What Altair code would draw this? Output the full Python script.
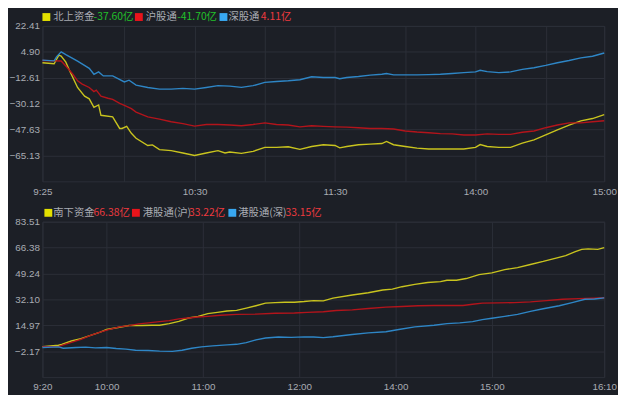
import altair as alt
import pandas as pd

# ---------------- top panel: 北向资金 (minutes from 9:25, lunch removed) ----------------
top_names = ["北上资金", "沪股通", "深股通"]
top_value_texts = ["-37.60亿", "-41.70亿", "4.11亿"]
top_x_ticks = [0, 35, 65, 95, 125, 155, 185, 215, 240]
top_x_labels = {0: "9:25", 65: "10:30", 125: "11:30", 185: "14:00", 240: "15:00"}
top_y_ticks = [22.41, 4.90, -12.61, -30.12, -47.63, -65.13]
top_y_domain = [-82.64, 22.41]

north_t = [0, 5, 7, 8, 10, 12, 15, 18, 20, 22, 24, 25, 30, 33, 34, 36, 38, 40, 45, 47, 50, 55, 60, 65,
           70, 75, 78, 80, 85, 90, 95, 100, 105, 110, 115, 120, 125, 127, 130, 135, 140, 145, 147,
           150, 155, 160, 165, 170, 175, 180, 185, 187, 190, 195, 200, 205, 210, 215, 220, 225,
           230, 235, 240]
north_v = [-2.5, -3.2, 2.6, 2.0, -2.1, -9.2, -19.2, -25.1, -26.9, -32.6, -31.0, -38.0, -39.1, -46.9,
           -46.9, -45.5, -50.2, -53.5, -58.4, -58.0, -61.2, -61.9, -63.5, -65.2, -63.5, -61.9, -63.5,
           -62.8, -63.7, -62.4, -59.7, -59.7, -59.3, -61.0, -59.1, -57.9, -58.4, -60.0, -59.1, -57.9,
           -57.5, -57.1, -55.7, -57.9, -59.1, -60.2, -60.8, -60.8, -60.8, -60.8, -59.7, -57.8, -59.1,
           -59.7, -59.7, -56.8, -54.6, -51.3, -47.9, -44.6, -41.8, -40.2, -37.60]

sh_t = [0, 5, 8, 10, 13, 15, 17, 20, 22, 23, 25, 28, 30, 33, 35, 38, 40, 45, 50, 55, 60, 65, 70, 75,
        80, 85, 90, 95, 100, 105, 110, 115, 120, 125, 130, 135, 140, 145, 150, 155, 160, 165, 170,
        175, 180, 185, 190, 195, 200, 205, 210, 215, 220, 225, 230, 235, 240]
sh_v = [-1.0, -1.2, -1.3, -4.7, -10.3, -14.7, -16.9, -19.2, -22.0, -21.0, -25.1, -26.5, -27.3, -30.0,
        -31.3, -33.5, -35.8, -39.1, -40.6, -42.4, -43.6, -45.3, -44.2, -44.2, -44.6, -45.1, -44.2,
        -43.1, -44.2, -44.6, -45.8, -45.1, -45.5, -45.8, -46.0, -46.4, -46.9, -46.9, -47.3, -48.6,
        -49.3, -49.8, -50.4, -50.6, -51.3, -51.3, -50.6, -50.9, -50.9, -49.5, -48.6, -46.4, -44.6,
        -43.1, -43.1, -42.4, -41.70]

sz_t = [0, 5, 6, 8, 10, 15, 20, 22, 24, 26, 30, 35, 37, 40, 45, 50, 55, 60, 65, 70, 75, 80, 85, 90,
        95, 100, 105, 110, 115, 120, 125, 127, 130, 135, 140, 145, 147, 150, 155, 160, 165, 170, 175,
        180, 185, 187, 190, 195, 200, 205, 210, 215, 220, 225, 230, 235, 240]
sz_v = [-0.73, -1.2, 1.5, 4.9, 3.0, -1.4, -6.3, -10.3, -8.7, -11.4, -11.4, -15.5, -14.3, -17.6, -19.2,
        -20.3, -20.3, -19.8, -20.3, -19.2, -18.0, -18.3, -19.15, -18.0, -15.8, -15.2, -14.7, -14.0,
        -12.0, -12.5, -12.5, -13.3, -12.5, -11.8, -10.9, -10.3, -9.8, -10.7, -10.7, -10.7, -10.5,
        -10.3, -9.8, -9.2, -8.7, -7.6, -8.5, -9.2, -8.7, -7.0, -5.9, -4.3, -2.5, -1.0, 0.8, 1.9, 4.11]

# ---------------- bottom panel: 南向资金 (minutes from 9:20, lunch removed) ----------------
bot_names = ["南下资金", "港股通(沪)", "港股通(深)"]
bot_value_texts = ["66.38亿", "33.22亿", "33.15亿"]
bot_x_ticks = [0, 40, 100, 160, 220, 280, 350]
bot_x_labels = {0: "9:20", 40: "10:00", 100: "11:00", 160: "12:00", 220: "14:00", 280: "15:00", 350: "16:10"}
bot_y_ticks = [83.51, 66.38, 49.24, 32.10, 14.97, -2.17]
bot_y_domain = [-19.31, 83.51]

south_t = [0, 10, 12, 18, 24, 30, 36, 40, 48, 54, 62, 68, 73, 79, 85, 91, 97, 103, 109, 115, 121, 127,
           133, 139, 145, 151, 157, 163, 169, 175, 181, 193, 203, 212, 218, 224, 232, 240, 248, 252,
           258, 264, 272, 280, 288, 296, 304, 312, 320, 326, 332, 336, 340, 346, 350]
south_v = [0.9, 1.8, 2.4, 4.6, 6.1, 8.3, 10.5, 12.2, 13.7, 14.8, 14.8, 15.0, 15.0, 16.1, 17.6, 19.8,
           20.9, 22.7, 23.5, 24.4, 24.8, 26.3, 27.9, 29.6, 30.0, 30.25, 30.25, 30.7, 31.3, 31.1, 32.9,
           35.0, 36.5, 38.3, 38.9, 40.5, 42.0, 43.3, 43.9, 44.8, 44.8, 45.9, 48.5, 49.6, 51.8, 53.1,
           55.2, 57.2, 59.4, 61.1, 63.7, 65.2, 65.5, 65.2, 66.38]

hsh_t = [0, 10, 14, 24, 30, 36, 40, 48, 54, 60, 66, 73, 79, 85, 91, 97, 103, 111, 121, 133, 145, 157,
         165, 175, 183, 193, 203, 214, 224, 234, 244, 254, 262, 268, 274, 284, 294, 304, 314, 324,
         334, 344, 350]
hsh_v = [0.9, 0.9, 2.4, 5.7, 8.3, 10.5, 11.8, 13.95, 14.8, 15.9, 16.6, 17.4, 18.1, 19.2, 19.8, 20.5,
         20.9, 21.6, 22.2, 22.4, 22.9, 23.1, 23.5, 23.9, 24.8, 25.2, 26.1, 27.0, 27.4, 27.9, 28.1,
         28.1, 28.1, 28.9, 29.6, 29.8, 30.0, 30.5, 31.3, 32.2, 32.6, 32.9, 33.22]

hsz_t = [0, 10, 13, 21, 27, 33, 40, 46, 52, 58, 66, 73, 81, 87, 93, 99, 106, 115, 121, 127, 133, 139,
         147, 155, 163, 169, 175, 181, 193, 203, 214, 222, 232, 244, 252, 260, 268, 274, 280, 288,
         296, 304, 312, 322, 330, 338, 344, 350]
hsz_v = [0.3, 0.7, -0.2, 0.27, 0.5, 0.05, 0.27, -0.4, -0.8, -1.5, -1.7, -2.1, -2.3, -1.5, -0.2, 0.7,
         1.35, 2.0, 2.4, 3.5, 5.3, 6.6, 7.2, 7.0, 7.3, 7.2, 6.8, 7.4, 8.9, 10.0, 10.7, 12.2, 13.95,
         15.0, 16.1, 16.6, 17.4, 18.7, 19.6, 20.9, 22.2, 24.2, 25.9, 27.9, 30.0, 32.2, 32.4, 33.15]

# ---------------- styles ----------------
BG = "#1c1f26"
GRID = "#2c2f38"
LABEL = "#a9acb3"
line_colors = ["#c9c41e", "#b3141b", "#2e86c6"]
square_colors = ["#e3e000", "#e8141b", "#38a8f2"]
NEG = "#22c02a"
POS = "#ee3a3f"
PLOT_W = 571
PLOT_H = 158
LEG_Y = -9
top_leg_offsets = [(4, 11, 52), (98, 105, 137), (184, 189, 222)]
bot_leg_offsets = [(6, 11, 52), (95, 102, 149), (193, 199, 247)]


def make_df(names, ts, vs):
    frames = []
    for n, t, v in zip(names, ts, vs):
        frames.append(pd.DataFrame({"series": n, "t": t, "v": v}))
    return pd.concat(frames, ignore_index=True)


def label_expr(mapping):
    expr = "''"
    for k, lab in reversed(list(mapping.items())):
        expr = f"datum.value == {k} ? '{lab}' : ({expr})"
    return expr


def legend_layers(names, texts, offsets):
    base = alt.Chart(pd.DataFrame({"k": [0]}))
    out = []
    for name, txt, sc, (sx, nx, vx) in zip(names, texts, square_colors, offsets):
        vc = NEG if txt.startswith("-") else POS
        out.append(base.mark_square(size=64, color=sc, opacity=1, filled=True)
                   .encode(x=alt.value(sx), y=alt.value(LEG_Y)))
        out.append(base.mark_text(text=name, align="left", baseline="middle",
                                  font="Noto Sans CJK SC", fontSize=10.5, color=LABEL)
                   .encode(x=alt.value(nx), y=alt.value(LEG_Y)))
        out.append(base.mark_text(text=txt, align="left", baseline="middle",
                                  font="Noto Sans CJK SC", fontSize=10.5, color=vc)
                   .encode(x=alt.value(vx), y=alt.value(LEG_Y)))
    return out


def panel(df, names, x_domain, x_ticks, x_labels, y_domain, y_ticks, texts, offsets):
    lines = alt.Chart(df).mark_line(strokeWidth=1.4).encode(
        x=alt.X("t:Q", scale=alt.Scale(domain=x_domain, nice=False, zero=False),
                axis=alt.Axis(values=x_ticks, labelExpr=label_expr(x_labels), title=None,
                              labelFlush=False, labelOverlap=False, labelPadding=5)),
        y=alt.Y("v:Q", scale=alt.Scale(domain=y_domain, nice=False, zero=False),
                axis=alt.Axis(values=y_ticks, format=".2f", title=None, labelPadding=3,
                              labelOverlap=False)),
        color=alt.Color("series:N", scale=alt.Scale(domain=names, range=line_colors), legend=None),
        order=alt.Order("t:Q"),
    )
    return alt.layer(lines, *legend_layers(names, texts, offsets)).properties(
        width=PLOT_W, height=PLOT_H)


top_df = make_df(top_names, [north_t, sh_t, sz_t], [north_v, sh_v, sz_v])
bot_df = make_df(bot_names, [south_t, hsh_t, hsz_t], [south_v, hsh_v, hsz_v])

top = panel(top_df, top_names, [0, 240], top_x_ticks, top_x_labels, top_y_domain, top_y_ticks,
            top_value_texts, top_leg_offsets)
bottom = panel(bot_df, bot_names, [0, 350], bot_x_ticks, bot_x_labels, bot_y_domain, bot_y_ticks,
               bot_value_texts, bot_leg_offsets)

chart = alt.vconcat(top, bottom, spacing=41, bounds="flush").properties(
    background=BG, padding=0
).configure_axis(
    grid=True, gridColor=GRID, gridWidth=1, domain=False, ticks=False,
    labelColor=LABEL, labelFont="Liberation Sans", labelFontSize=10,
).configure_view(stroke=GRID, strokeWidth=1)

chart.save("out.html", embed_options={"renderer": "svg", "actions": False})
